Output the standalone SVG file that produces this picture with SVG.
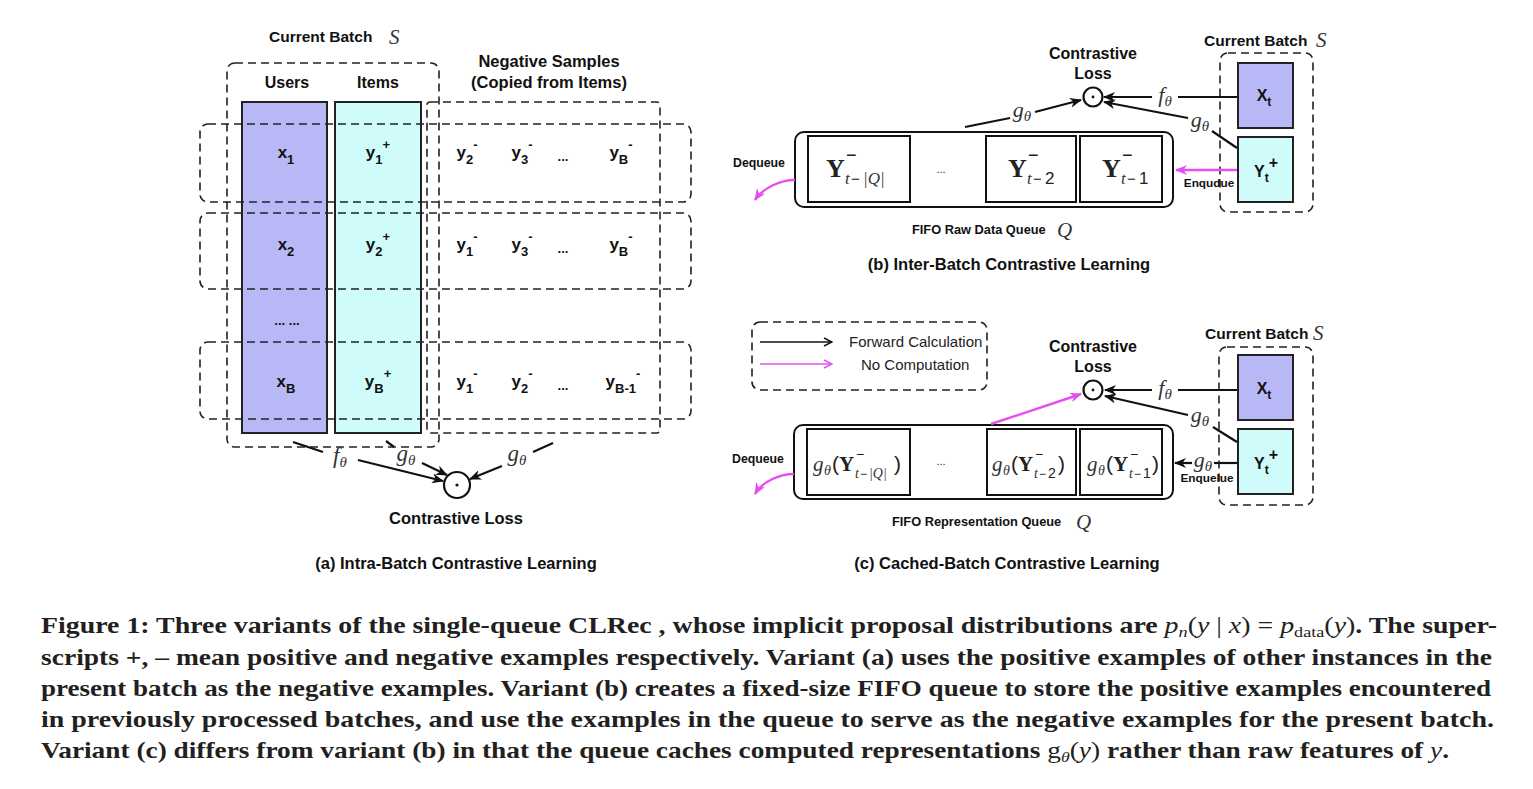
<svg xmlns="http://www.w3.org/2000/svg" width="1533" height="789" viewBox="0 0 1533 789">
<defs>
<style>
.dash{fill:none;stroke:#222;stroke-width:1.6;stroke-dasharray:8 5}
.box{fill:none;stroke:#111;stroke-width:2}
.u{fill:#b9b8f6;stroke:#222;stroke-width:2}
.i{fill:#cffcfa;stroke:#222;stroke-width:2}
.b{font-family:"Liberation Sans",Arial,sans-serif;font-weight:bold;fill:#111}
.r{font-family:"Liberation Sans",Arial,sans-serif;fill:#222}
.m{font-family:"Liberation Serif","Times New Roman",serif;font-style:italic;fill:#333}
.yb{font-family:"Liberation Serif","Times New Roman",serif;font-weight:bold;fill:#222}
.cap{font-family:"Liberation Serif","Times New Roman",serif;font-weight:bold;font-size:23px;fill:#231f20}
.c{stroke:#111;stroke-width:2.2;fill:none}
.cm{stroke:#e54ff0;stroke-width:2.4;fill:none}
.ci{fill:#fff;stroke:#111;stroke-width:2.2}
</style>
<marker id="ab" viewBox="0 0 12 10" refX="11" refY="5" markerWidth="12" markerHeight="10" markerUnits="userSpaceOnUse" orient="auto"><path d="M0,0 L12,5 L0,10 L3.5,5 z" fill="#111"/></marker>
<marker id="am" viewBox="0 0 12 10" refX="11" refY="5" markerWidth="12" markerHeight="10" markerUnits="userSpaceOnUse" orient="auto"><path d="M0,0 L12,5 L0,10 L3.5,5 z" fill="#e54ff0"/></marker>
<marker id="lb" viewBox="0 0 10 10" refX="9" refY="5" markerWidth="10" markerHeight="10" markerUnits="userSpaceOnUse" orient="auto"><path d="M1,1 L9,5 L1,9" fill="none" stroke="#111" stroke-width="1.5"/></marker>
<marker id="lm" viewBox="0 0 10 10" refX="9" refY="5" markerWidth="10" markerHeight="10" markerUnits="userSpaceOnUse" orient="auto"><path d="M1,1 L9,5 L1,9" fill="none" stroke="#e54ff0" stroke-width="1.5"/></marker>
</defs>
<rect width="1533" height="789" fill="#fff"/>

<!-- ===== Panel (a) ===== -->
<g id="a-users"><rect class="u" x="242" y="102" width="85" height="331"/></g>
<g id="a-items"><rect class="i" x="335" y="102" width="86" height="331"/></g>
<g id="a-batch">
<rect class="dash" x="227" y="63" width="212" height="384" rx="8"/>
<text class="b" font-size="15.5" x="269" y="42">Current Batch</text>
<text class="m" font-size="21" x="389" y="44">S</text>
<text class="b" font-size="16" x="287" y="88" text-anchor="middle">Users</text>
<text class="b" font-size="16" x="378" y="88" text-anchor="middle">Items</text>
</g>
<g id="a-negatives">
<rect class="dash" x="427" y="102" width="233" height="331" rx="3"/>
<text class="b" font-size="16.5" x="549" y="67" text-anchor="middle">Negative Samples</text>
<text class="b" font-size="16.5" x="549" y="88" text-anchor="middle">(Copied from Items)</text>
</g>
<g id="a-row1">
<rect class="dash" x="200" y="124" width="491" height="78" rx="8"/>
<text class="b" font-size="17" x="286" y="158" text-anchor="middle">x<tspan font-size="13" dy="6">1</tspan></text>
<text class="b" font-size="17" x="378" y="158" text-anchor="middle">y<tspan font-size="13" dy="6">1</tspan><tspan font-size="13" dy="-15">+</tspan></text>
<text class="b" font-size="17" x="467" y="158" text-anchor="middle">y<tspan font-size="13" dy="6">2</tspan><tspan font-size="13" dy="-15">-</tspan></text>
<text class="b" font-size="17" x="522" y="158" text-anchor="middle">y<tspan font-size="13" dy="6">3</tspan><tspan font-size="13" dy="-15">-</tspan></text>
<text class="b" font-size="13" x="563" y="161" text-anchor="middle">...</text>
<text class="b" font-size="17" x="621" y="158" text-anchor="middle">y<tspan font-size="13" dy="6">B</tspan><tspan font-size="13" dy="-15">-</tspan></text>
</g>
<g id="a-row2">
<rect class="dash" x="200" y="213" width="491" height="76" rx="8"/>
<text class="b" font-size="17" x="286" y="250" text-anchor="middle">x<tspan font-size="13" dy="6">2</tspan></text>
<text class="b" font-size="17" x="378" y="250" text-anchor="middle">y<tspan font-size="13" dy="6">2</tspan><tspan font-size="13" dy="-15">+</tspan></text>
<text class="b" font-size="17" x="467" y="250" text-anchor="middle">y<tspan font-size="13" dy="6">1</tspan><tspan font-size="13" dy="-15">-</tspan></text>
<text class="b" font-size="17" x="522" y="250" text-anchor="middle">y<tspan font-size="13" dy="6">3</tspan><tspan font-size="13" dy="-15">-</tspan></text>
<text class="b" font-size="13" x="563" y="253" text-anchor="middle">...</text>
<text class="b" font-size="17" x="621" y="250" text-anchor="middle">y<tspan font-size="13" dy="6">B</tspan><tspan font-size="13" dy="-15">-</tspan></text>
</g>
<g id="a-ellipsis"><text class="b" font-size="13" x="287" y="325" text-anchor="middle">... ...</text></g>
<g id="a-rowB">
<rect class="dash" x="200" y="342" width="491" height="77" rx="8"/>
<text class="b" font-size="17" x="286" y="387" text-anchor="middle">x<tspan font-size="13" dy="6">B</tspan></text>
<text class="b" font-size="17" x="378" y="387" text-anchor="middle">y<tspan font-size="13" dy="6">B</tspan><tspan font-size="13" dy="-15">+</tspan></text>
<text class="b" font-size="17" x="467" y="387" text-anchor="middle">y<tspan font-size="13" dy="6">1</tspan><tspan font-size="13" dy="-15">-</tspan></text>
<text class="b" font-size="17" x="522" y="387" text-anchor="middle">y<tspan font-size="13" dy="6">2</tspan><tspan font-size="13" dy="-15">-</tspan></text>
<text class="b" font-size="13" x="563" y="390" text-anchor="middle">...</text>
<text class="b" font-size="17" x="623" y="387" text-anchor="middle">y<tspan font-size="13" dy="6">B-1</tspan><tspan font-size="13" dy="-15">-</tspan></text>
</g>
<g id="a-loss">
<circle class="ci" cx="457" cy="485" r="13"/><circle cx="457" cy="485" r="1.6" fill="#111"/>
<text class="b" font-size="16.5" x="456" y="524" text-anchor="middle">Contrastive Loss</text>
</g>
<g id="a-title"><text class="b" font-size="16.5" x="456" y="569" text-anchor="middle">(a) Intra-Batch Contrastive Learning</text></g>

<!-- ===== Panel (b) ===== -->
<g id="b-batch">
<rect class="dash" x="1220" y="53" width="93" height="159" rx="8"/>
<text class="b" font-size="15.5" x="1204" y="46">Current Batch</text>
<text class="m" font-size="21" x="1316" y="47">S</text>
</g>
<g id="b-xt"><rect class="u" x="1238" y="63" width="55" height="65"/>
<text class="b" font-size="16" x="1264" y="101" text-anchor="middle">X<tspan font-size="12" dy="5">t</tspan></text></g>
<g id="b-yt"><rect class="i" x="1238" y="137" width="55" height="65"/>
<text class="b" font-size="16" x="1266" y="177" text-anchor="middle">Y<tspan font-size="12" dy="5">t</tspan><tspan font-size="16" dy="-14">+</tspan></text></g>
<g id="b-loss">
<text class="b" font-size="16" x="1093" y="59" text-anchor="middle">Contrastive</text>
<text class="b" font-size="16" x="1093" y="79" text-anchor="middle">Loss</text>
<circle class="ci" cx="1093" cy="97" r="9.5"/><circle cx="1093" cy="97" r="1.4" fill="#111"/>
</g>
<g id="b-queue">
<rect class="box" x="795" y="132" width="378" height="75" rx="9"/>
<rect class="box" x="808" y="136" width="102" height="66"/>
<rect class="box" x="986" y="136" width="90" height="66"/>
<rect class="box" x="1080" y="136" width="82" height="66"/>
<text class="yb" font-size="26" x="826" y="177">Y</text>
<text class="r" font-size="18" x="846" y="161">−</text>
<text class="m" font-size="17" x="845" y="184">t</text><text class="r" font-size="15" x="851" y="184">−</text><text class="m" font-size="17" x="863" y="184">|Q|</text>
<text class="r" font-size="11" x="941" y="173" text-anchor="middle">...</text>
<text class="yb" font-size="26" x="1008" y="177">Y</text>
<text class="r" font-size="18" x="1028" y="161">−</text>
<text class="m" font-size="17" x="1027" y="184">t</text><text class="r" font-size="15" x="1033" y="184">−</text><text class="r" font-size="17" x="1045" y="184">2</text>
<text class="yb" font-size="26" x="1102" y="177">Y</text>
<text class="r" font-size="18" x="1122" y="161">−</text>
<text class="m" font-size="17" x="1121" y="184">t</text><text class="r" font-size="15" x="1127" y="184">−</text><text class="r" font-size="17" x="1139" y="184">1</text>
<text class="b" font-size="12.8" x="912" y="234">FIFO Raw Data Queue</text>
<text class="m" font-size="21" x="1057" y="237">Q</text>
</g>
<g id="b-dequeue"><text class="b" font-size="12.3" x="759" y="167" text-anchor="middle">Dequeue</text></g>
<g id="b-enqueue"><text class="b" font-size="11.8" x="1209" y="187" text-anchor="middle">Enqudue</text></g>
<g id="b-title"><text class="b" font-size="16.5" x="1009" y="270" text-anchor="middle">(b) Inter-Batch Contrastive Learning</text></g>

<!-- ===== Panel (c) ===== -->
<g id="c-legend">
<rect class="dash" x="752" y="322" width="235" height="68" rx="8"/>
<line x1="760" y1="342" x2="832" y2="342" stroke="#111" stroke-width="1.4" marker-end="url(#lb)"/>
<line x1="760" y1="364" x2="832" y2="364" stroke="#e54ff0" stroke-width="1.4" marker-end="url(#lm)"/>
<text class="r" font-size="15" x="849" y="347">Forward Calculation</text>
<text class="r" font-size="15" x="861" y="370">No Computation</text>
</g>
<g id="c-batch">
<rect class="dash" x="1219" y="347" width="94" height="158" rx="8"/>
<text class="b" font-size="15.5" x="1205" y="339">Current Batch</text>
<text class="m" font-size="21" x="1313" y="340">S</text>
</g>
<g id="c-xt"><rect class="u" x="1238" y="355" width="55" height="65"/>
<text class="b" font-size="16" x="1264" y="394" text-anchor="middle">X<tspan font-size="12" dy="5">t</tspan></text></g>
<g id="c-yt"><rect class="i" x="1238" y="429" width="55" height="65"/>
<text class="b" font-size="16" x="1266" y="469" text-anchor="middle">Y<tspan font-size="12" dy="5">t</tspan><tspan font-size="16" dy="-14">+</tspan></text></g>
<g id="c-loss">
<text class="b" font-size="16" x="1093" y="352" text-anchor="middle">Contrastive</text>
<text class="b" font-size="16" x="1093" y="372" text-anchor="middle">Loss</text>
<circle class="ci" cx="1093" cy="390" r="9.5"/><circle cx="1093" cy="390" r="1.4" fill="#111"/>
</g>
<g id="c-queue">
<rect class="box" x="794" y="425" width="379" height="74" rx="9"/>
<rect class="box" x="807" y="429" width="103" height="66"/>
<rect class="box" x="987" y="429" width="89" height="66"/>
<rect class="box" x="1080" y="429" width="82" height="66"/>
<text class="m" font-size="21" x="813" y="471">g</text><text class="m" font-size="14" x="824" y="475">θ</text><text class="r" font-size="21" x="832" y="471" fill="#444" font-family="Liberation Serif">(</text>
<text class="yb" font-size="21" x="839" y="471" fill="#444">Y</text><text class="r" font-size="14" x="856" y="459" fill="#444">−</text>
<text class="m" font-size="14" x="855" y="478">t</text><text class="r" font-size="12" x="860" y="478" fill="#444">−</text><text class="m" font-size="14" x="869" y="478">|Q|</text>
<text class="r" font-size="21" x="894" y="471" fill="#444" font-family="Liberation Serif">)</text>
<text class="r" font-size="11" x="941" y="465" text-anchor="middle">...</text>
<text class="m" font-size="21" x="992" y="471">g</text><text class="m" font-size="14" x="1003" y="475">θ</text><text class="r" font-size="21" x="1011" y="471" fill="#444" font-family="Liberation Serif">(</text>
<text class="yb" font-size="21" x="1018" y="471" fill="#444">Y</text><text class="r" font-size="14" x="1035" y="459" fill="#444">−</text>
<text class="m" font-size="14" x="1034" y="478">t</text><text class="r" font-size="12" x="1039" y="478" fill="#444">−</text><text class="r" font-size="14" x="1048" y="478" fill="#444">2</text>
<text class="r" font-size="21" x="1058" y="471" fill="#444" font-family="Liberation Serif">)</text>
<text class="m" font-size="21" x="1087" y="471">g</text><text class="m" font-size="14" x="1098" y="475">θ</text><text class="r" font-size="21" x="1106" y="471" fill="#444" font-family="Liberation Serif">(</text>
<text class="yb" font-size="21" x="1113" y="471" fill="#444">Y</text><text class="r" font-size="14" x="1130" y="459" fill="#444">−</text>
<text class="m" font-size="14" x="1129" y="478">t</text><text class="r" font-size="12" x="1134" y="478" fill="#444">−</text><text class="r" font-size="14" x="1143" y="478" fill="#444">1</text>
<text class="r" font-size="21" x="1152" y="471" fill="#444" font-family="Liberation Serif">)</text>
<text class="b" font-size="12.8" x="892" y="526">FIFO Representation Queue</text>
<text class="m" font-size="21" x="1076" y="529">Q</text>
</g>
<g id="c-dequeue"><text class="b" font-size="12.3" x="758" y="463" text-anchor="middle">Dequeue</text></g>
<g id="c-enqueue"><text class="b" font-size="11.8" x="1207" y="482" text-anchor="middle">Enquelue</text></g>
<g id="c-title"><text class="b" font-size="16.5" x="1007" y="569" text-anchor="middle">(c) Cached-Batch Contrastive Learning</text></g>

<!-- ===== Connectors ===== -->
<g id="connectors">
<!-- (a) -->
<line class="c" x1="293" y1="442" x2="323" y2="452"/>
<line class="c" x1="358" y1="460" x2="443" y2="481" marker-end="url(#ab)"/>
<line class="c" x1="386" y1="441" x2="394" y2="447"/>
<line class="c" x1="422" y1="463" x2="447" y2="475" marker-end="url(#ab)"/>
<line class="c" x1="553" y1="443" x2="533" y2="452"/>
<line class="c" x1="502" y1="466" x2="470" y2="479" marker-end="url(#ab)"/>
<text class="m" font-size="23" x="340" y="463" text-anchor="middle">f<tspan font-size="15" dy="4">θ</tspan></text>
<text class="m" font-size="23" x="406" y="461" text-anchor="middle">g<tspan font-size="15" dy="4">θ</tspan></text>
<text class="m" font-size="23" x="517" y="461" text-anchor="middle">g<tspan font-size="15" dy="4">θ</tspan></text>
<!-- (b) -->
<line class="c" x1="1237" y1="97" x2="1178" y2="97"/>
<line class="c" x1="1152" y1="97" x2="1104" y2="97" marker-end="url(#ab)"/>
<line class="c" x1="1237" y1="148" x2="1212" y2="131"/>
<line class="c" x1="1188" y1="118" x2="1104" y2="102" marker-end="url(#ab)"/>
<line class="c" x1="965" y1="127" x2="1010" y2="118"/>
<line class="c" x1="1035" y1="112" x2="1081" y2="100" marker-end="url(#ab)"/>
<line class="cm" x1="1237" y1="170" x2="1176" y2="170" marker-end="url(#am)"/>
<path class="cm" d="M795,180 C780,180 763,188 755,200" marker-end="url(#am)"/>
<text class="m" font-size="22" x="1165" y="102" text-anchor="middle">f<tspan font-size="15" dy="4">θ</tspan></text>
<text class="m" font-size="22" x="1200" y="127" text-anchor="middle">g<tspan font-size="15" dy="4">θ</tspan></text>
<text class="m" font-size="22" x="1022" y="117" text-anchor="middle">g<tspan font-size="15" dy="4">θ</tspan></text>
<!-- (c) -->
<line class="c" x1="1237" y1="390" x2="1178" y2="390"/>
<line class="c" x1="1152" y1="390" x2="1105" y2="390" marker-end="url(#ab)"/>
<line class="c" x1="1237" y1="442" x2="1213" y2="427"/>
<line class="c" x1="1188" y1="415" x2="1105" y2="396" marker-end="url(#ab)"/>
<line class="cm" x1="991" y1="424" x2="1081" y2="394" marker-end="url(#am)"/>
<line class="c" x1="1237" y1="463" x2="1214" y2="463"/>
<line class="c" x1="1192" y1="463" x2="1175" y2="463" marker-end="url(#ab)"/>
<path class="cm" d="M794,474 C779,474 762,482 755,494" marker-end="url(#am)"/>
<text class="m" font-size="22" x="1165" y="395" text-anchor="middle">f<tspan font-size="15" dy="4">θ</tspan></text>
<text class="m" font-size="22" x="1200" y="422" text-anchor="middle">g<tspan font-size="15" dy="4">θ</tspan></text>
<text class="m" font-size="22" x="1203" y="467" text-anchor="middle">g<tspan font-size="15" dy="4">θ</tspan></text>
</g>

<!-- ===== Caption ===== -->
<g id="caption">
<text class="cap" x="41" y="633" textLength="1456" lengthAdjust="spacingAndGlyphs">Figure 1: Three variants of the single-queue CLRec , whose implicit proposal distributions are <tspan font-weight="normal" font-style="italic">p</tspan><tspan font-weight="normal" font-style="italic" font-size="15" dy="4">n</tspan><tspan font-weight="normal" dy="-4">(<tspan font-style="italic">y</tspan> | <tspan font-style="italic">x</tspan>) = <tspan font-style="italic">p</tspan></tspan><tspan font-weight="normal" font-size="15" dy="4">data</tspan><tspan font-weight="normal" dy="-4">(<tspan font-style="italic">y</tspan>)</tspan>. The super-</text>
<text class="cap" x="41" y="665" textLength="1451" lengthAdjust="spacingAndGlyphs">scripts +, – mean positive and negative examples respectively. Variant (a) uses the positive examples of other instances in the</text>
<text class="cap" x="41" y="696" textLength="1450" lengthAdjust="spacingAndGlyphs">present batch as the negative examples. Variant (b) creates a fixed-size FIFO queue to store the positive examples encountered</text>
<text class="cap" x="41" y="727" textLength="1453" lengthAdjust="spacingAndGlyphs">in previously processed batches, and use the examples in the queue to serve as the negative examples for the present batch.</text>
<text class="cap" x="41" y="758" textLength="1408" lengthAdjust="spacingAndGlyphs">Variant (c) differs from variant (b) in that the queue caches computed representations <tspan font-weight="normal">g</tspan><tspan font-weight="normal" font-style="italic" font-size="15" dy="4">θ</tspan><tspan font-weight="normal" dy="-4">(<tspan font-style="italic">y</tspan>)</tspan> rather than raw features of <tspan font-weight="normal" font-style="italic">y</tspan>.</text>
</g>
</svg>
